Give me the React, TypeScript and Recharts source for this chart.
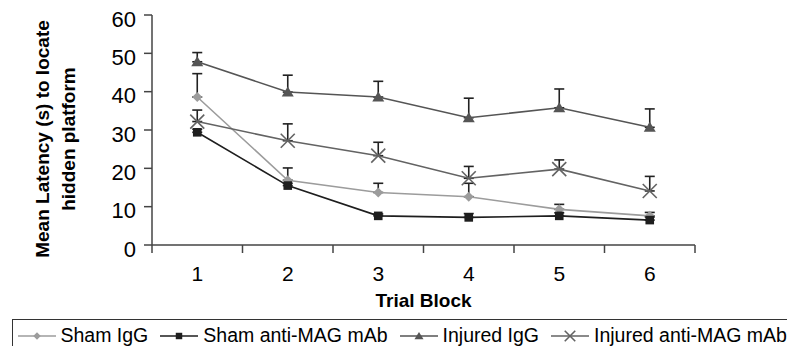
import React from 'react';
import { LineChart, Line, XAxis, YAxis, ErrorBar, Legend, Label } from 'recharts';

const trialBlocks = [1, 2, 3, 4, 5, 6];
const shamIgG = [38.6, 16.9, 13.7, 12.6, 9.3, 7.6];
const shamIgGErr = [6.1, 3.2, 2.4, 3.5, 1.3, 0.9];
const shamAntiMAG = [29.4, 15.5, 7.6, 7.2, 7.6, 6.5];
const shamAntiMAGErr = [0.8, 0.6, 0.5, 1.0, 0.8, 0.8];
const injuredIgG = [47.8, 39.9, 38.6, 33.2, 35.8, 30.7];
const injuredIgGErr = [2.4, 4.4, 4.1, 5.1, 4.9, 4.8];
const injuredAntiMAG = [32.2, 27.2, 23.3, 17.4, 19.8, 14.1];
const injuredAntiMAGErr = [3.0, 4.4, 3.5, 3.1, 2.4, 3.8];
const yTicks = [0, 10, 20, 30, 40, 50, 60];
const blockBounds = [...trialBlocks.map((b) => b - 0.5), trialBlocks[trialBlocks.length - 1] + 0.5];
const xTicks = [...blockBounds, ...trialBlocks].sort((a, b) => a - b);

const data = trialBlocks.map((b, i) => ({
  block: b,
  shamIgG: shamIgG[i],
  shamIgGErr: [0, shamIgGErr[i]],
  shamAntiMAG: shamAntiMAG[i],
  shamAntiMAGErr: [0, shamAntiMAGErr[i]],
  injuredIgG: injuredIgG[i],
  injuredIgGErr: [0, injuredIgGErr[i]],
  injuredAntiMAG: injuredAntiMAG[i],
  injuredAntiMAGErr: [0, injuredAntiMAGErr[i]],
}));

const FONT = '"Liberation Sans", Arial, Helvetica, sans-serif';
const AXIS = '#444';

type Shape = 'diamond' | 'square' | 'triangle' | 'cross';

function marker(shape: Shape, cx: number, cy: number, color: string, scale = 1, key?: any) {
  if (cx == null || cy == null) return <g key={key} />;
  if (shape === 'diamond') {
    const s = 5 * scale;
    return <path key={key} d={`M${cx},${cy - s}L${cx + s},${cy}L${cx},${cy + s}L${cx - s},${cy}Z`} fill={color} />;
  }
  if (shape === 'square') {
    const s = 4.3 * scale;
    return <rect key={key} x={cx - s} y={cy - s} width={2 * s} height={2 * s} fill={color} />;
  }
  if (shape === 'triangle') {
    const w = 6 * scale;
    const h = 5.5 * scale;
    return <path key={key} d={`M${cx},${cy - h}L${cx + w},${cy + h * 0.8}L${cx - w},${cy + h * 0.8}Z`} fill={color} />;
  }
  const s = 7 * scale;
  return (
    <g key={key} stroke={color} strokeWidth={1.6}>
      <line x1={cx - s} y1={cy - s} x2={cx + s} y2={cy + s} />
      <line x1={cx - s} y1={cy + s} x2={cx + s} y2={cy - s} />
    </g>
  );
}

const series: { key: string; name: string; color: string; shape: Shape }[] = [
  { key: 'shamIgG', name: 'Sham IgG', color: '#9c9c9c', shape: 'diamond' },
  { key: 'shamAntiMAG', name: 'Sham anti-MAG mAb', color: '#1e1e1e', shape: 'square' },
  { key: 'injuredIgG', name: 'Injured IgG', color: '#555555', shape: 'triangle' },
  { key: 'injuredAntiMAG', name: 'Injured anti-MAG mAb', color: '#636363', shape: 'cross' },
];

const YTick = (props: any) => {
  const { x, y, payload } = props;
  return (
    <text x={x} y={y + 4} textAnchor="end" dy="0.355em" fontSize={22} fill="#000" fontFamily={FONT}>
      {payload.value}
    </text>
  );
};

const XTick = (props: any) => {
  const { x, y, payload } = props;
  const v = payload.value;
  if (!Number.isInteger(v)) {
    return <line x1={x} y1={y} x2={x} y2={y + 8} stroke={AXIS} strokeWidth={1.5} />;
  }
  return (
    <text x={x} y={y + 29} textAnchor="middle" dy="0.355em" fontSize={21} fill="#000" fontFamily={FONT}>
      {v}
    </text>
  );
};

const YLabel = (props: any) => {
  const vb = props.viewBox || {};
  const cy = vb.y + vb.height / 2 + 9;
  const x1 = vb.x + 34;
  const x2 = vb.x + 60;
  return (
    <g fontFamily={FONT} fontWeight="bold" fontSize={19} fill="#000">
      <text x={x1} y={cy} textAnchor="middle" dominantBaseline="central" transform={`rotate(-90, ${x1}, ${cy})`}>
        Mean Latency (s) to locate
      </text>
      <text x={x2} y={cy} textAnchor="middle" dominantBaseline="central" transform={`rotate(-90, ${x2}, ${cy})`}>
        hidden platform
      </text>
    </g>
  );
};

const LegendBox = () => (
  <div
    style={{
      boxSizing: 'border-box',
      width: '100%',
      height: '100%',
      border: '1.5px solid #333',
      borderRight: 'none',
      display: 'flex',
      alignItems: 'center',
      paddingLeft: 4.5,
      fontFamily: FONT,
      fontSize: 19.5,
      color: '#000',
      whiteSpace: 'nowrap',
      overflow: 'visible',
    }}
  >
    {series.map((s, i) => (
      <div
        key={s.key}
        style={{ display: 'flex', alignItems: 'center', flexShrink: 0, marginLeft: i === 0 ? 0 : 12 }}
      >
        <svg width={38} height={16} style={{ display: 'block' }}>
          <line x1={0} y1={8} x2={38} y2={8} stroke={s.color} strokeWidth={1.5} />
          {marker(s.shape, 19, 8, s.color, 0.75)}
        </svg>
        <span style={{ marginLeft: 5 }}>{s.name}</span>
      </div>
    ))}
  </div>
);

export default function App() {
  return (
    <div style={{ width: 787, height: 338 }}>
      <LineChart width={787} height={338} data={data} margin={{ top: 7, right: 100, bottom: 39, left: 0 }}>
        <XAxis
          dataKey="block"
          type="number"
          domain={[blockBounds[0], blockBounds[blockBounds.length - 1]]}
          ticks={xTicks}
          tick={<XTick />}
          tickLine={false}
          tickSize={0}
          tickMargin={0}
          height={62}
          stroke={AXIS}
          strokeWidth={1.5}
          interval={0}
        >
          <Label
            value="Trial Block"
            position="insideBottom"
            offset={0}
            style={{ fontFamily: FONT, fontWeight: 'bold', fontSize: 19, fill: '#000' }}
          />
        </XAxis>
        <YAxis
          type="number"
          domain={[0, 60]}
          ticks={yTicks}
          width={144}
          tick={<YTick />}
          tickSize={8}
          tickMargin={8}
          stroke={AXIS}
          strokeWidth={1.5}
          interval={0}
        >
          <Label content={<YLabel />} position="insideLeft" />
        </YAxis>
        <Legend
          verticalAlign="middle"
          align="center"
          layout="horizontal"
          content={<LegendBox />}
          wrapperStyle={{ left: 4, top: 311, width: 783, height: 33 }}
        />
        {series.map((s) => (
          <Line
            key={s.key}
            dataKey={s.key}
            name={s.name}
            stroke={s.color}
            strokeWidth={1.6}
            isAnimationActive={false}
            dot={(p: any) => marker(s.shape, p.cx, p.cy, s.color, 1, p.key ?? `${s.key}-${p.index}`)}
            activeDot={false}
          >
            <ErrorBar dataKey={`${s.key}Err`} width={5} stroke="#222" strokeWidth={1.6} direction="y" />
          </Line>
        ))}
      </LineChart>
    </div>
  );
}
